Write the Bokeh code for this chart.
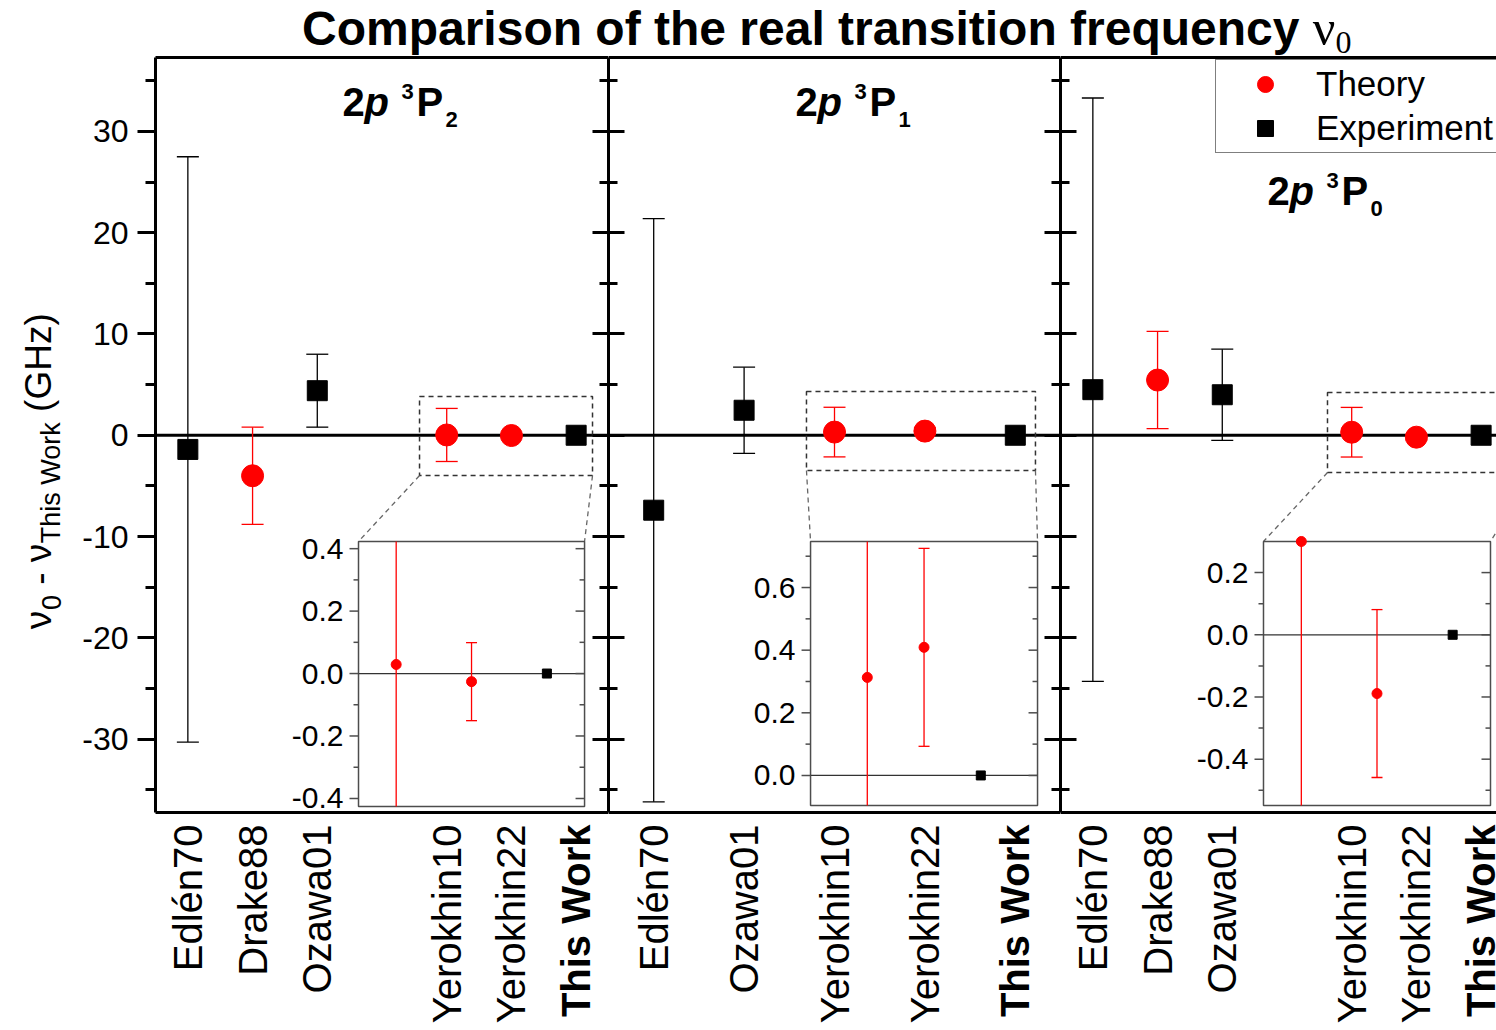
import math
from bokeh.plotting import figure
from bokeh.models import (Range1d, LinearAxis, FixedTicker, Span, Label, Legend,
                          LegendItem, ColumnDataSource, Div)
from bokeh.layouts import row, column
from bokeh.embed import file_html
from bokeh.resources import INLINE
from bokeh.core.properties import value

# ---------------------------------------------------------------- data
title_main = "Comparison of the real transition frequency"
legend_labels = ["Theory", "Experiment"]

cats_3P2 = ["Edlén70", "Drake88", "Ozawa01", "Yerokhin10", "Yerokhin22", "This Work"]
vals_3P2 = [-1.4, -4.0, 4.4, 0.029, -0.026, 0.0]
errs_3P2 = [28.9, 4.8, 3.6, 2.62, 0.125, 0.0]
kind_3P2 = ["Experiment", "Theory", "Experiment", "Theory", "Theory", "Experiment"]

cats_3P1 = ["Edlén70", "Ozawa01", "Yerokhin10", "Yerokhin22", "This Work"]
vals_3P1 = [-7.4, 2.47, 0.313, 0.409, 0.0]
errs_3P1 = [28.8, 4.25, 2.45, 0.316, 0.0]
kind_3P1 = ["Experiment", "Experiment", "Theory", "Theory", "Experiment"]

cats_3P0 = ["Edlén70", "Drake88", "Ozawa01", "Yerokhin10", "Yerokhin22", "This Work"]
vals_3P0 = [4.5, 5.45, 4.0, 0.30, -0.189, 0.0]
errs_3P0 = [28.8, 4.8, 4.5, 2.45, 0.27, 0.0]
kind_3P0 = ["Experiment", "Theory", "Experiment", "Theory", "Theory", "Experiment"]

y_ticks = [-30, -20, -10, 0, 10, 20, 30]
y_minor = [-35, -25, -15, -5, 5, 15, 25, 35]

inset_ticks_3P2 = [-0.4, -0.2, 0.0, 0.2, 0.4]
inset_minor_3P2 = [-0.3, -0.1, 0.1, 0.3]
inset_ticks_3P1 = [0.0, 0.2, 0.4, 0.6]
inset_minor_3P1 = [0.1, 0.3, 0.5, 0.7]
inset_ticks_3P0 = [-0.4, -0.2, 0.0, 0.2]
inset_minor_3P0 = [-0.5, -0.3, -0.1, 0.1]

ylabel_pieces = [("ν", "main"), ("0", "sub"), (" ", "gap"), ("-", "main"), (" ", "gap"),
                 ("ν", "main"), ("This Work", "sub"), (" ", "gap"), ("(GHz)", "main")]

# ---------------------------------------------------------------- layout / style
RED = "#ff0000"
FONT = "Liberation Sans"
PAGE_W, PAGE_H = 1496, 1030
FIG_TOP = 56
FRAME_TOP, FRAME_BOTTOM = 57, 812
BT = FRAME_TOP - FIG_TOP
FRAME_H = FRAME_BOTTOM - FRAME_TOP
BB = 2
MAIN_H = BT + FRAME_H + BB
BOT_TOP = FIG_TOP + MAIN_H
BOT_H = PAGE_H - BOT_TOP
YLAB_W = 70
Y_LO, Y_HI = -37.25, 37.30

panels = [
    dict(cats=cats_3P2, vals=vals_3P2, errs=errs_3P2, kind=kind_3P2, sub="2",
         slots=[0, 1, 2, 4, 5, 6], frame_left=155, width=608 - YLAB_W, bl=155 - YLAB_W,
         bwidth=608, bbl=155, xr=(-0.5, 6.5),
         zoom=(3.58, 6.253, -3.98, 3.83), box=(2.637, 6.130, -36.66, -10.49),
         ixr=(-0.5, 2.5), iyr=(-0.426, 0.423), iticks=inset_ticks_3P2, iminor=inset_minor_3P2,
         lab=(342, 116), right_axis=True),
    dict(cats=cats_3P1, vals=vals_3P1, errs=errs_3P1, kind=kind_3P1, sub="1",
         slots=[0, 1, 2, 3, 4], frame_left=608, width=452, bl=0, bwidth=452, bbl=0,
         xr=(-0.5, 4.5),
         zoom=(1.69, 4.223, -3.48, 4.32), box=(1.735, 4.246, -36.56, -10.49),
         ixr=(-1.0, 3.0), iyr=(-0.096, 0.747), iticks=inset_ticks_3P1, iminor=inset_minor_3P1,
         lab=(795, 116), right_axis=True),
    dict(cats=cats_3P0, vals=vals_3P0, errs=errs_3P0, kind=kind_3P0, sub="0",
         slots=[0, 1, 2, 4, 5, 6], frame_left=1060, width=PAGE_W - 1060, bl=0,
         bwidth=PAGE_W - 1060, bbl=0, xr=(-0.5, -0.5 + (PAGE_W - 1060) / 64.71),
         zoom=(3.626, 6.8, -3.68, 4.22), box=(2.637, 6.145, -36.56, -10.49),
         ixr=(-0.5, 2.5), iyr=(-0.549, 0.300), iticks=inset_ticks_3P0, iminor=inset_minor_3P0,
         lab=(1267, 205), right_axis=False),
]


def lin(m0, m1, b0, b1, i0, i1):
    k = (i1 - i0) / (b1 - b0)
    return i0 + (m0 - b0) * k, i0 + (m1 - b0) * k


def inner_axis():
    return LinearAxis(ticker=FixedTicker(ticks=y_ticks, minor_ticks=y_minor),
                      axis_line_width=3, major_tick_line_width=3, minor_tick_line_width=3,
                      major_tick_in=16, major_tick_out=0, minor_tick_in=9, minor_tick_out=0,
                      major_label_text_font_size="0px", major_label_standoff=0,
                      major_label_overrides={float(t): "" for t in y_ticks})


def line_axis():
    return LinearAxis(ticker=FixedTicker(ticks=[]), axis_line_width=3,
                      major_tick_in=0, major_tick_out=0, minor_tick_in=0, minor_tick_out=0,
                      major_label_text_font_size="0px", major_label_standoff=0)


BASE_FIX = 0.36   # Label "alphabetic" anchor correction (fraction of font size)


def screen_label(p, frame_left, px, py, text, size, style="bold"):
    p.add_layout(Label(x=px - frame_left, y=FRAME_BOTTOM - (py - BASE_FIX * size),
                       x_units="screen", y_units="screen", text=text,
                       text_align="left", text_baseline="alphabetic",
                       text_font=FONT, text_font_size=f"{size}px", text_font_style=style,
                       text_color="black"))


def bare(width, height, xr, yr, bl=0):
    f = figure(width=width, height=height, x_range=xr, y_range=yr, output_backend="svg",
               toolbar_location=None, min_border_left=bl, min_border_right=0,
               min_border_top=0, min_border_bottom=0, x_axis_location=None,
               y_axis_location=None)
    f.xgrid.grid_line_color = None
    f.ygrid.grid_line_color = None
    f.outline_line_color = None
    f.border_fill_color = None
    f.background_fill_color = None
    return f


figs, bots = [], []
legend_rs = {}
for n, cfg in enumerate(panels):
    p = figure(width=cfg["width"], height=MAIN_H, x_range=Range1d(*cfg["xr"]),
               y_range=Range1d(Y_LO, Y_HI), output_backend="svg", toolbar_location=None,
               min_border_left=cfg["bl"], min_border_right=0, min_border_top=BT,
               min_border_bottom=BB, x_axis_location=None, y_axis_location=None)
    p.xgrid.grid_line_color = None
    p.ygrid.grid_line_color = None
    p.outline_line_color = None
    p.border_fill_color = None
    p.background_fill_color = "white"

    # ---- axes
    if n == 0:
        la = LinearAxis(ticker=FixedTicker(ticks=y_ticks, minor_ticks=y_minor),
                        axis_line_width=3, major_tick_line_width=3, minor_tick_line_width=3,
                        major_tick_in=0, major_tick_out=18, minor_tick_in=0, minor_tick_out=10,
                        major_label_text_font=FONT, major_label_text_font_size="32px",
                        major_label_standoff=9, major_label_text_color="black",
                        major_label_overrides={float(t): f"{t:d}" for t in y_ticks})
        p.add_layout(la, "left")
    else:
        p.add_layout(inner_axis(), "left")
    if cfg["right_axis"]:
        p.add_layout(inner_axis(), "right")
    p.add_layout(line_axis(), "above")
    p.add_layout(line_axis(), "below")

    # ---- zero line
    p.add_layout(Span(location=0, dimension="width", line_color="black", line_width=3,
                      level="underlay"))

    # ---- main data
    xs, vs, es, ks = cfg["slots"], cfg["vals"], cfg["errs"], cfg["kind"]
    for kind, col in (("Experiment", "black"), ("Theory", RED)):
        idx = [i for i in range(len(xs)) if ks[i] == kind and es[i] > 0]
        src = ColumnDataSource(dict(x=[xs[i] for i in idx],
                                    lo=[vs[i] - es[i] for i in idx],
                                    hi=[vs[i] + es[i] for i in idx]))
        p.segment(x0="x", y0="lo", x1="x", y1="hi", source=src, line_color=col, line_width=1.3)
        p.scatter(x="x", y="lo", source=src, marker="dash", size=22, line_color=col, line_width=1.3)
        p.scatter(x="x", y="hi", source=src, marker="dash", size=22, line_color=col, line_width=1.3)
    for kind, col, mk, sz in (("Theory", RED, "circle", 22), ("Experiment", "black", "square", 20)):
        idx = [i for i in range(len(xs)) if ks[i] == kind]
        r = p.scatter(x=[xs[i] for i in idx], y=[vs[i] for i in idx], marker=mk, size=sz,
                      fill_color=col, line_color=col)
        legend_rs.setdefault(n, {})[kind] = r

    # ---- zoom box + connectors
    zx0, zx1, zy0, zy1 = cfg["zoom"]
    bx0, bx1, by0, by1 = cfg["box"]
    p.quad(left=[zx0], right=[zx1], bottom=[zy0], top=[zy1], fill_color=None,
           line_color="#333333", line_width=1.5, line_dash="5 4")
    p.segment(x0=[zx0, zx1], y0=[zy0, zy0], x1=[bx0, bx1], y1=[by1, by1],
              line_color="#666666", line_width=1.3, line_dash="5 4")

    # ---- inset
    ix0, ix1 = cfg["ixr"]
    iy0, iy1 = cfg["iyr"]
    X, Y = p.x_range, p.y_range
    p.extra_x_ranges = {"ix": Range1d(*lin(X.start, X.end, bx0, bx1, ix0, ix1))}
    p.extra_y_ranges = {"iy": Range1d(*lin(Y.start, Y.end, by0, by1, iy0, iy1))}
    p.quad(left=[bx0], right=[bx1], bottom=[by0], top=[by1], fill_color="white",
           line_color="#4d4d4d", line_width=1.5)
    kw = dict(x_range_name="ix", y_range_name="iy")
    tk = cfg["iticks"]
    mn = cfg["iminor"]
    p.segment(x0=[ix0], y0=[0], x1=[ix1], y1=[0], line_color="#333333", line_width=1.3, **kw)
    for xe in (ix0, ix1):
        p.ray(x=[xe] * len(tk), y=tk, length=9, angle=math.pi, length_units="screen",
              line_color="#4d4d4d", line_width=1.5, **kw)
        p.ray(x=[xe] * len(mn), y=mn, length=5, angle=math.pi, length_units="screen",
              line_color="#4d4d4d", line_width=1.5, **kw)
    p.text(x=[ix0] * len(tk), y=tk, text=[f"{t:.1f}" for t in tk], x_offset=-15,
           text_align="right", text_baseline="middle", text_font=value(FONT),
           text_font_size="30px", text_color="black", **kw)
    sub_v, sub_e, sub_k = vs[-3:], es[-3:], ks[-3:]
    for j in range(3):
        col = RED if sub_k[j] == "Theory" else "black"
        if sub_e[j] > 0:
            lo, hi = sub_v[j] - sub_e[j], sub_v[j] + sub_e[j]
            p.segment(x0=[j], y0=[max(lo, iy0)], x1=[j], y1=[min(hi, iy1)],
                      line_color=col, line_width=1.3, **kw)
            caps = [c for c in (lo, hi) if iy0 <= c <= iy1]
            if caps:
                p.scatter(x=[j] * len(caps), y=caps, marker="dash", size=11,
                          line_color=col, line_width=1.3, **kw)
        if sub_k[j] == "Theory":
            p.scatter(x=[j], y=[sub_v[j]], marker="circle", size=10, fill_color=RED,
                      line_color=RED, **kw)
        else:
            p.scatter(x=[j], y=[sub_v[j]], marker="square", size=9, fill_color="black",
                      line_color="black", **kw)

    # ---- panel label 2p 3P_J
    fl = cfg["frame_left"]
    lx, ly = cfg["lab"]
    screen_label(p, fl, lx, ly, "2", 40)
    screen_label(p, fl, lx + 22, ly, "p", 40, style="bold italic")
    screen_label(p, fl, lx + 59, ly - 17, "3", 22)
    screen_label(p, fl, lx + 74, ly, "P", 40)
    screen_label(p, fl, lx + 103, ly + 11, cfg["sub"], 22)
    figs.append(p)

    # ---- category labels strip (shares the panel's x scale)
    b = bare(cfg["bwidth"], BOT_H, p.x_range, Range1d(PAGE_H, BOT_TOP), bl=cfg["bbl"])
    b.border_fill_color = "white"
    b.background_fill_color = "white"
    b.text(x=xs, y=[BOT_TOP + 10] * len(xs), text=cfg["cats"],
           text_font_style=["bold" if c == "This Work" else "normal" for c in cfg["cats"]],
           angle=math.pi / 2, text_align="right", text_baseline="middle",
           text_font=value(FONT), text_font_size="40px", text_color="black")
    bots.append(b)

# ---- y-axis label strip (composed, rotated)
ylab = bare(YLAB_W, MAIN_H, Range1d(0, YLAB_W), Range1d(FIG_TOP + MAIN_H, FIG_TOP))
ylab.border_fill_color = "white"
ylab.background_fill_color = "white"
W = {"ν": 0.52, "0": 0.556, "-": 0.333, "T": 0.611, "h": 0.556, "i": 0.222, "s": 0.5,
     "W": 0.944, "o": 0.556, "r": 0.333, "k": 0.5, "(": 0.333, "G": 0.778, "H": 0.722,
     "z": 0.5, ")": 0.333, " ": 0.278}
M, S = 37, 27
MAIN_BASE_X, SUB_BASE_X = 51, 60
yx, yy, yt, ys = [], [], [], []
pos = 630.0
for txt, role in ylabel_pieces:
    sz = S if role == "sub" else M
    if role == "gap":
        pos -= W[" "] * M
        continue
    base = SUB_BASE_X if role == "sub" else MAIN_BASE_X
    yx.append(base - 0.35 * sz)
    yy.append(pos)
    yt.append(txt)
    ys.append(f"{sz}px")
    pos -= sum(W.get(c, 0.556) for c in txt) * sz
ylab.text(x=yx, y=yy, text=yt, text_font_size=ys, angle=math.pi / 2, text_align="left",
          text_baseline="middle", text_font=value(FONT), text_color="black")

# ---- legend in third panel
p3 = figs[2]
leg = Legend(items=[LegendItem(label=legend_labels[0], renderers=[legend_rs[2]["Theory"]]),
                    LegendItem(label=legend_labels[1], renderers=[legend_rs[2]["Experiment"]])],
             location=(155, FRAME_BOTTOM - 153), orientation="vertical",
             border_line_color="black", border_line_width=1, background_fill_color="white",
             background_fill_alpha=1.0, label_text_font=FONT, label_text_font_size="35px",
             label_text_color="black", glyph_width=90, glyph_height=40, label_height=40,
             label_standoff=6, padding=4, spacing=4, margin=0)
p3.add_layout(leg)

title_html = (
    f'<div style="height:{FIG_TOP}px;line-height:{FIG_TOP}px;white-space:nowrap;'
    'padding-left:302px;font-family:\'Liberation Sans\',Arial,sans-serif;'
    'font-weight:bold;font-size:48px;color:black;overflow:visible;margin:0;">'
    + title_main +
    ' <span style="font-family:\'Liberation Serif\',serif;font-weight:normal;font-size:50px;">ν'
    '<span style="position:relative;top:8px;font-size:32px;">0</span></span></div>'
)
title = Div(text=title_html, width=PAGE_W, height=FIG_TOP, margin=0)

layout = column(title, row(ylab, *figs, spacing=0), row(*bots, spacing=0), spacing=0)
open("out.html", "w").write(file_html(layout, INLINE))
